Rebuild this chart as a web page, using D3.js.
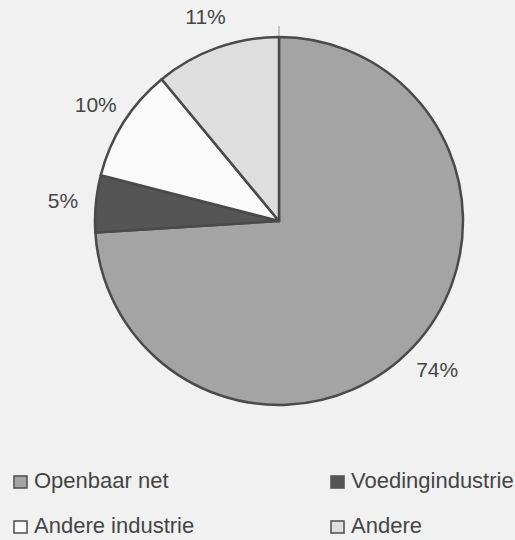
<!DOCTYPE html>
<html><head><meta charset="utf-8">
<script src="https://cdn.jsdelivr.net/npm/d3@7"></script>
<style>
html,body{margin:0;padding:0;background:#f1f1f1;}
svg{display:block;}
text{font-family:"Liberation Sans",Arial,Helvetica,sans-serif;fill:#454545;}
</style></head>
<body>
<svg id="chart" width="515" height="540"></svg>
<script>
const categories = ["Openbaar net", "Voedingindustrie", "Andere industrie", "Andere"];
const values = [74, 5, 10, 11];
const labels = ["74%", "5%", "10%", "11%"];
const colors = ["#a4a4a4", "#555555", "#fafafa", "#dedede"];

const svg = d3.select("#chart");
const cx = 279, cy = 221, r = 184, labelR = 217;

const pie = d3.pie().sort(null).value(d => d)(values);
const arc = d3.arc().innerRadius(0).outerRadius(r);
const labelArc = d3.arc().innerRadius(labelR).outerRadius(labelR);

const g = svg.append("g").attr("transform", `translate(${cx},${cy})`);

// small tick above the pie
g.append("line").attr("x1", 0).attr("x2", 0).attr("y1", -r - 11).attr("y2", -r - 2)
  .attr("stroke", "#999").attr("stroke-width", 1);

g.selectAll("path.slice").data(pie).join("path")
  .attr("class", "slice")
  .attr("d", arc)
  .attr("fill", (d, i) => colors[i])
  .attr("stroke", "#4a4a4a")
  .attr("stroke-width", 2.5)
  .attr("stroke-linejoin", "round");

g.selectAll("text.lbl").data(pie).join("text")
  .attr("class", "lbl")
  .attr("x", d => labelArc.centroid(d)[0])
  .attr("y", d => labelArc.centroid(d)[1])
  .attr("dy", "0.36em")
  .attr("text-anchor", "middle")
  .style("font-size", "21px")
  .text((d, i) => labels[i]);

// legend
const legendX = d3.scaleOrdinal().domain([0, 1]).range([13, 330]);
const legendY = d3.scaleOrdinal().domain([0, 1]).range([488, 533]);
const leg = svg.selectAll("g.leg").data(categories).join("g")
  .attr("class", "leg")
  .attr("transform", (d, i) => `translate(${legendX(i % 2)},${legendY(Math.floor(i / 2))})`);
leg.append("rect")
  .attr("x", 1).attr("y", -12).attr("width", 13).attr("height", 12)
  .attr("fill", (d, i) => colors[i])
  .attr("stroke", "#555").attr("stroke-width", 1.6);
leg.append("text")
  .attr("x", 21).attr("y", 0)
  .style("font-size", "22px")
  .text(d => d);
</script>
</body></html>
